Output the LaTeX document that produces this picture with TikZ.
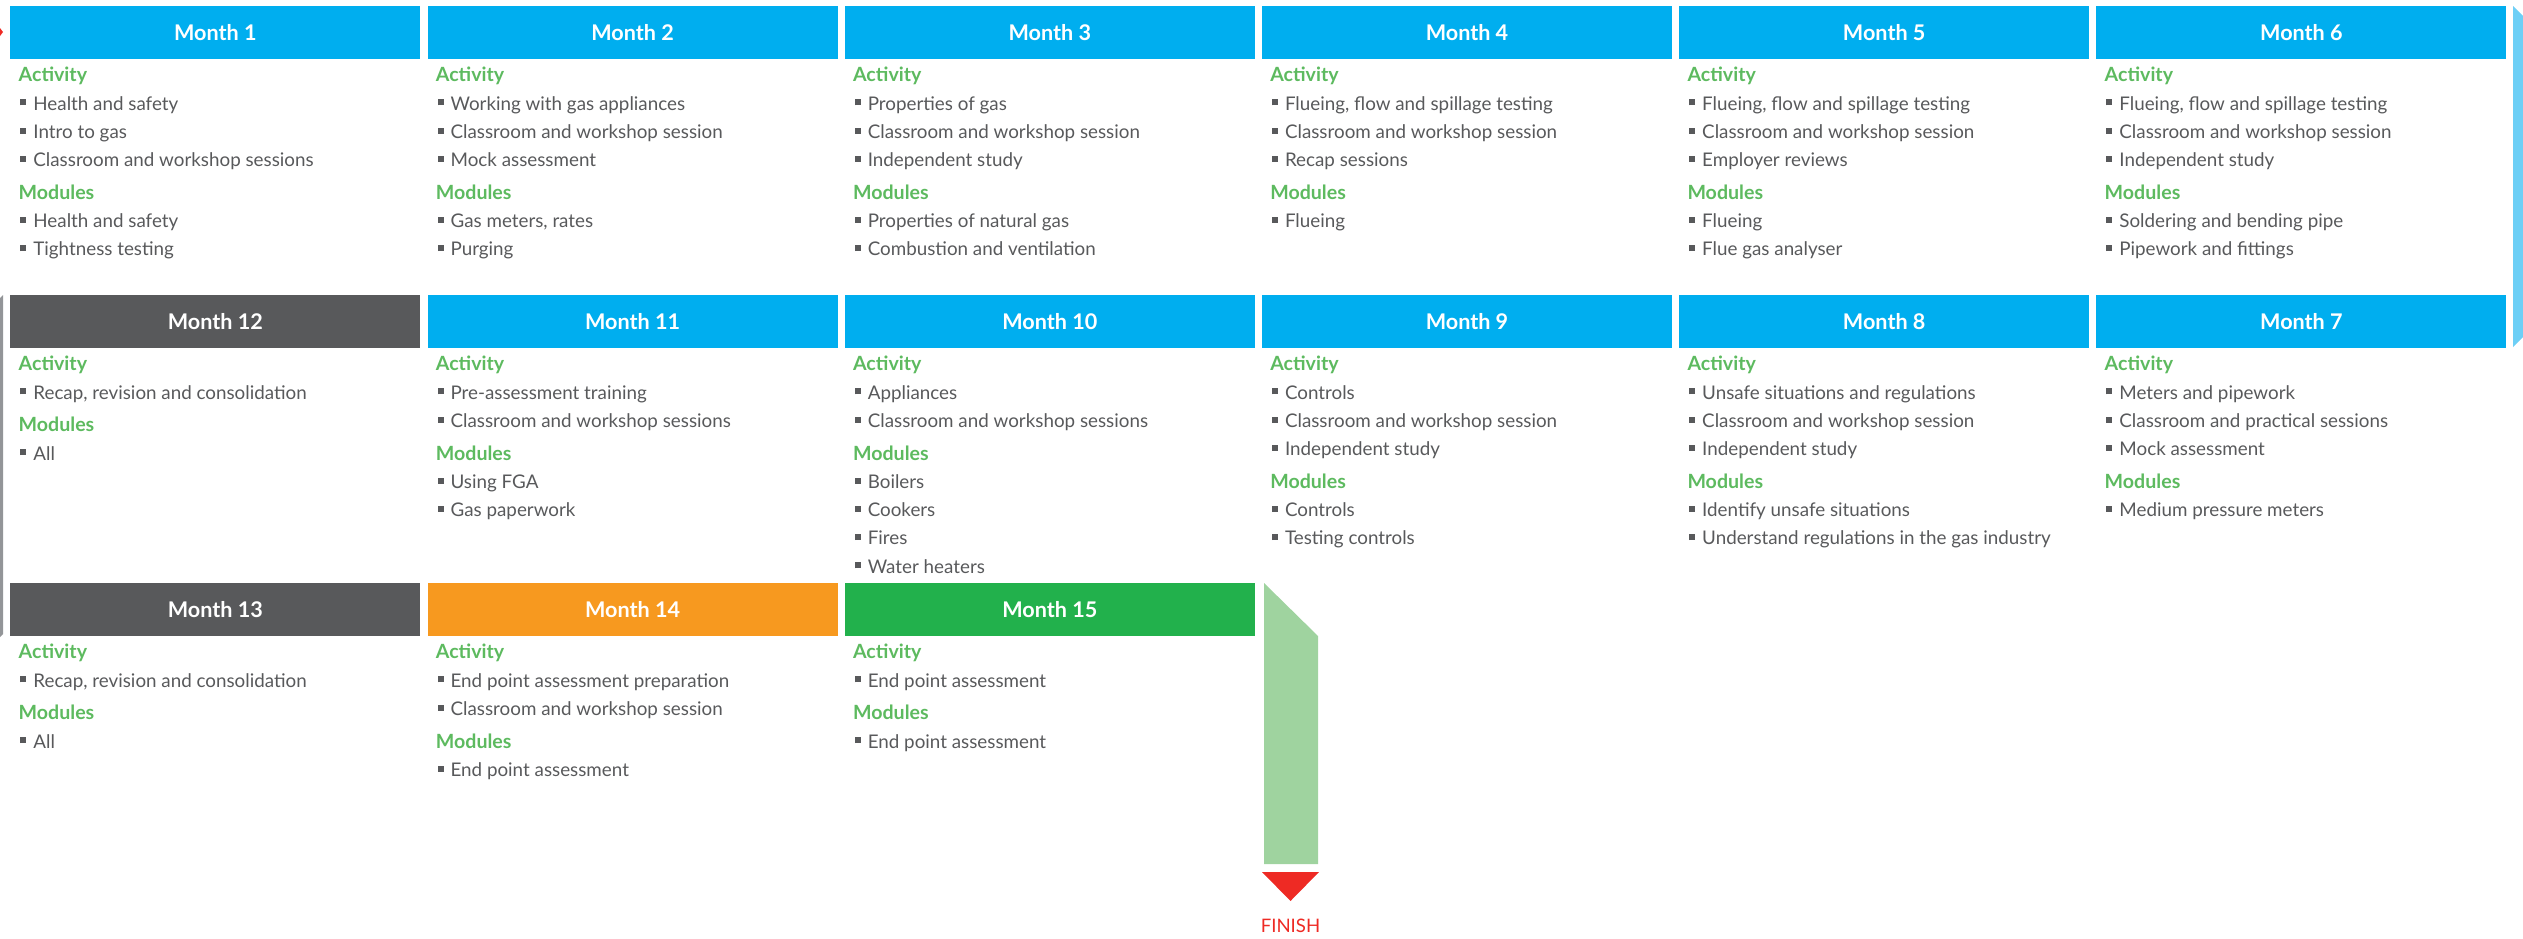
\documentclass[tikz,border=0pt]{standalone}
\usepackage{fontspec}
\setmainfont{Lato}
\usepackage{xcolor}
\definecolor{hdrBlue}{HTML}{00AEEF}
\definecolor{hdrGray}{HTML}{58595B}
\definecolor{hdrOrange}{HTML}{F7991F}
\definecolor{hdrGreen}{HTML}{22B14C}
\definecolor{headGreen}{HTML}{5DBA5F}
\definecolor{bodyGray}{HTML}{58595B}
\definecolor{barBlue}{HTML}{6DCFF6}
\definecolor{barGray}{HTML}{939598}
\definecolor{barGreen}{HTML}{9FD39F}
\definecolor{finishRed}{HTML}{EE2A24}
\usepackage{tikz}
\usetikzlibrary{calc}

\tikzset{
  hdr/.style={anchor=north west, minimum width=205pt, minimum height=26.35pt,
    inner sep=0pt, text=white, font=\fontsize{10.8}{12}\selectfont\bfseries},
  subhd/.style={anchor=base west, inner sep=0pt, text=headGreen,
    font=\fontsize{9.8}{11}\selectfont\bfseries},
  itm/.style={anchor=base west, inner sep=0pt, text=bodyGray,
    font=\fontsize{9.4}{12}\selectfont},
}
\newcommand{\bul}{\textcolor{bodyGray}{\rule[2.4pt]{3pt}{3pt}}\hspace{3.5pt}}
% #1 name, #2 left, #3 top, #4 colour, #5 title, #6 activity, #7 modules
\newcommand{\monthcol}[7]{%
  \node[hdr, fill=#4] (#1) at (#2,#3) {#5};
  \node[subhd] (#1-act) at ($(#1.south west)+(8.3,22.3)$) {Activity};
  \foreach \txt [count=\i] in {#6}
    {\node[itm] (#1-a\i) at ($(#1-act.base west)+(1.7,28.3*\i)$) {\bul\txt};
     \coordinate (#1-last) at (#1-a\i.base west);}
  \node[subhd] (#1-mod) at ($(#1-last)+(-1.7,32.6)$) {Modules};
  \foreach \txt [count=\i] in {#7}
    {\node[itm] (#1-m\i) at ($(#1-mod.base west)+(1.7,28.3*\i)$) {\bul\txt};}
}

\begin{document}
\begin{tikzpicture}[x=0.5pt, y=-0.5pt]
	\useasboundingbox (0,0) rectangle (2523,938);
	% row 1
	\monthcol{m1}{10}{6}{hdrBlue}{Month 1}
	  {Health and safety, Intro to gas, Classroom and workshop sessions}
	  {Health and safety, Tightness testing}
	\monthcol{m2}{427.2}{6}{hdrBlue}{Month 2}
	  {Working with gas appliances, Classroom and workshop session, Mock assessment}
	  {{Gas meters, rates}, Purging}
	\monthcol{m3}{844.4}{6}{hdrBlue}{Month 3}
	  {Properties of gas, Classroom and workshop session, Independent study}
	  {Properties of natural gas, Combustion and ventilation}
	\monthcol{m4}{1261.6}{6}{hdrBlue}{Month 4}
	  {{Flueing, flow and spillage testing}, Classroom and workshop session, Recap sessions}
	  {Flueing}
	\monthcol{m5}{1678.8}{6}{hdrBlue}{Month 5}
	  {{Flueing, flow and spillage testing}, Classroom and workshop session, Employer reviews}
	  {Flueing, Flue gas analyser}
	\monthcol{m6}{2096}{6}{hdrBlue}{Month 6}
	  {{Flueing, flow and spillage testing}, Classroom and workshop session, Independent study}
	  {Soldering and bending pipe, Pipework and fittings}
	% row 2
	\monthcol{m12}{10}{295}{hdrGray}{Month 12}
	  {{Recap, revision and consolidation}}
	  {All}
	\monthcol{m11}{427.2}{295}{hdrBlue}{Month 11}
	  {Pre-assessment training, Classroom and workshop sessions}
	  {Using FGA, Gas paperwork}
	\monthcol{m10}{844.4}{295}{hdrBlue}{Month 10}
	  {Appliances, Classroom and workshop sessions}
	  {Boilers, Cookers, Fires, Water heaters}
	\monthcol{m9}{1261.6}{295}{hdrBlue}{Month 9}
	  {Controls, Classroom and workshop session, Independent study}
	  {Controls, Testing controls}
	\monthcol{m8}{1678.8}{295}{hdrBlue}{Month 8}
	  {Unsafe situations and regulations, Classroom and workshop session, Independent study}
	  {Identify unsafe situations, Understand regulations in the gas industry}
	\monthcol{m7}{2096}{295}{hdrBlue}{Month 7}
	  {Meters and pipework, Classroom and practical sessions, Mock assessment}
	  {Medium pressure meters}
	% row 3
	\monthcol{m13}{10}{583}{hdrGray}{Month 13}
	  {{Recap, revision and consolidation}}
	  {All}
	\monthcol{m14}{427.2}{583}{hdrOrange}{Month 14}
	  {End point assessment preparation, Classroom and workshop session}
	  {End point assessment}
	\monthcol{m15}{844.4}{583}{hdrGreen}{Month 15}
	  {End point assessment}
	  {End point assessment}
	% path bars
	\fill[finishRed] (0,28) -- (3,32) -- (0,36) -- cycle;
	\fill[barBlue] (2513,6) -- (2523,16) -- (2523,337) -- (2513,347) -- cycle;
	\fill[barGray] (0,298) -- (3,295) -- (3,634) -- (0,637) -- cycle;
	\fill[barGreen] (1264,583) -- (1318,636) -- (1318,864) -- (1264,864) -- cycle;
	\fill[finishRed] (1262,872) -- (1319,872) -- (1290.5,901) -- cycle;
	\node[anchor=base, inner sep=0pt, text=finishRed, font=\fontsize{9.3}{11}\selectfont] (finish) at (1290.5,932.7) {FINISH};
\end{tikzpicture}
\end{document}
